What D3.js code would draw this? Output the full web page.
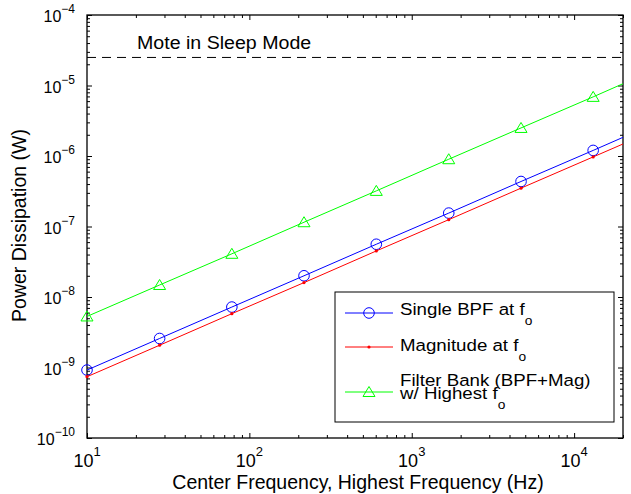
<!DOCTYPE html>
<html>
<head>
<meta charset="utf-8">
<script src="https://cdn.jsdelivr.net/npm/d3@7"></script>
<style>
  body { margin: 0; background: #fff; }
  svg { font-family: "Liberation Sans", Arial, Helvetica, sans-serif; }
</style>
</head>
<body>
<div id="chart-area"></div>
<script>
// frequencies (Hz); last one is where the lines leave the plot (no marker)
var freqs = [10, 28, 78, 217, 605, 1690, 4710, 13100, 20000];
var bpfPower = [9.2e-10, 2.58e-9, 7.2e-9, 2.0e-8, 5.6e-8, 1.55e-7, 4.35e-7, 1.2e-6, 1.84e-6];
var magPower = [7.4e-10, 2.07e-9, 5.8e-9, 1.6e-8, 4.5e-8, 1.25e-7, 3.5e-7, 9.7e-7, 1.48e-6];
var bankPower = [5.3e-9, 1.48e-8, 4.1e-8, 1.15e-7, 3.2e-7, 9.0e-7, 2.5e-6, 6.9e-6, 1.06e-5];
var sleepPower = 2.5e-5;

var xTickExps = [1, 2, 3, 4];
var yTickExps = [-10, -9, -8, -7, -6, -5, -4];
var legendLabels = [["Single BPF at f"], ["Magnitude at f"], ["Filter Bank (BPF+Mag)", "w/ Highest f"]];

var margin = {top: 15, right: 8, bottom: 56, left: 87};
var width = 631 - margin.left - margin.right;
var height = 494 - margin.top - margin.bottom;

var svg = d3.select("#chart-area").append("svg")
    .attr("width", 631)
    .attr("height", 494);

var g = svg.append("g")
    .attr("transform", "translate(" + margin.left + ", " + margin.top + ")");

var x = d3.scaleLog()
    .domain([10, 20000])
    .range([0, width]);

var y = d3.scaleLog()
    .domain([1e-10, 1e-4])
    .range([height, 0]);

function isDecade(v) {
    var l = Math.log10(v);
    return Math.abs(l - Math.round(l)) < 1e-9;
}

var xMinor = x.ticks().filter((d) => { return !isDecade(d); });
var xMajor = xTickExps.map((e) => { return Math.pow(10, e); });
var yMinor = y.ticks().filter((d) => { return !isDecade(d); });
var yMajor = yTickExps.map((e) => { return Math.pow(10, e); });

var axes = [
    [() => d3.axisBottom(x), xMinor, xMajor, "translate(0," + height + ")"],
    [() => d3.axisTop(x), xMinor, xMajor, "translate(0,0)"],
    [() => d3.axisLeft(y), yMinor, yMajor, "translate(0,0)"],
    [() => d3.axisRight(y), yMinor, yMajor, "translate(" + width + ",0)"]
];

axes.forEach((a) => {
    [[a[1], -3], [a[2], -5]].forEach((t) => {
        var ga = g.append("g")
            .attr("transform", a[3])
            .call(a[0]().tickValues(t[0]).tickSize(t[1]).tickFormat(""));
        ga.select(".domain").remove();
        ga.selectAll(".tick line").attr("stroke", "#000").attr("stroke-width", 1);
    });
});

// box
g.append("rect")
    .attr("x", 0).attr("y", 0)
    .attr("width", width).attr("height", height)
    .attr("fill", "none")
    .attr("stroke", "#000")
    .attr("stroke-width", 1.3);

// tick labels
var xLab = g.selectAll(".xlab").data(xTickExps).enter()
    .append("text")
    .attr("class", "xlab")
    .attr("x", (d) => { return x(Math.pow(10, d)); })
    .attr("y", height + 29)
    .attr("text-anchor", "middle")
    .attr("font-size", "18px");
xLab.append("tspan").text("10");
xLab.append("tspan").attr("dy", -11).attr("font-size", "13px").text((d) => { return String(d); });

var yLab = g.selectAll(".ylab").data(yTickExps).enter()
    .append("text")
    .attr("class", "ylab")
    .attr("x", -12)
    .attr("y", (d) => { return y(Math.pow(10, d)) + 7; })
    .attr("text-anchor", "end")
    .attr("font-size", "16px");
yLab.append("tspan").text("10");
yLab.append("tspan").attr("dy", -9).attr("font-size", "12px").text((d) => { return "\u2212" + Math.abs(d); });

// axis titles
g.append("text")
    .attr("x", width / 2 + 3)
    .attr("y", height + 51)
    .attr("font-size", "19.5px")
    .attr("text-anchor", "middle")
    .text("Center Frequency, Highest Frequency (Hz)");

g.append("text")
    .attr("transform", "rotate(-90)")
    .attr("x", -(height / 2) + 1)
    .attr("y", -61)
    .attr("font-size", "19.5px")
    .attr("text-anchor", "middle")
    .text("Power Dissipation (W)");

// sleep mode reference
g.append("line")
    .attr("x1", 0).attr("x2", width)
    .attr("y1", y(sleepPower)).attr("y2", y(sleepPower))
    .attr("stroke", "#000")
    .attr("stroke-width", 1)
    .attr("stroke-dasharray", "9,6");

g.append("text")
    .attr("transform", "translate(50," + (y(sleepPower) - 8) + ") scale(1.12,1)")
    .attr("font-size", "17.5px")
    .text("Mote in Sleep Mode");

// series
var series = [
    {vals: bpfPower, color: "#0000ff", marker: "circle"},
    {vals: magPower, color: "#ff0000", marker: "dot"},
    {vals: bankPower, color: "#00ff00", marker: "tri"}
];

var line = d3.line()
    .x((d) => { return x(d[0]); })
    .y((d) => { return y(d[1]); });

var triPath = "M0,-5.5L6,4.5L-6,4.5Z";

function drawMarker(sel, s) {
    if (s.marker == "circle") {
        sel.append("circle").attr("r", 5.3)
            .attr("fill", "none").attr("stroke", s.color).attr("stroke-width", 1);
    } else if (s.marker == "dot") {
        sel.append("circle").attr("r", 1.6).attr("fill", s.color);
    } else {
        sel.append("path").attr("d", triPath)
            .attr("fill", "none").attr("stroke", s.color).attr("stroke-width", 1);
    }
}

svg.append("clipPath").attr("id", "plotclip")
    .append("rect").attr("width", width).attr("height", height);

series.forEach((s) => {
    var pts = freqs.map((f, i) => { return [f, s.vals[i]]; });
    g.append("path")
        .datum(pts)
        .attr("d", line)
        .attr("fill", "none")
        .attr("stroke", s.color)
        .attr("stroke-width", 1)
        .attr("clip-path", "url(#plotclip)");
    g.selectAll(null)
        .data(pts.slice(0, pts.length - 1))
        .enter()
        .append("g")
        .attr("transform", (d) => { return "translate(" + x(d[0]) + "," + y(d[1]) + ")"; })
        .each(function() { drawMarker(d3.select(this), s); });
});

// legend
var legend = g.append("g").attr("transform", "translate(248, 277)");
legend.append("rect")
    .attr("width", 279).attr("height", 130)
    .attr("fill", "#fff")
    .attr("stroke", "#000")
    .attr("stroke-width", 1);

var rowLineY = [21, 55, 100];
var rowTextY = [[23], [58.5], [93.5], [107]];
rowTextY = [[23], [58.5], [93.5, 107]];

series.forEach((s, i) => {
    legend.append("line")
        .attr("x1", 10).attr("x2", 58)
        .attr("y1", rowLineY[i]).attr("y2", rowLineY[i])
        .attr("stroke", s.color).attr("stroke-width", 1);
    var m = legend.append("g").attr("transform", "translate(34," + rowLineY[i] + ")");
    drawMarker(m, s);
    legendLabels[i].forEach((t, j) => {
        var txt = legend.append("text")
            .attr("transform", "translate(65," + rowTextY[i][j] + ") scale(1.1,1)")
            .attr("font-size", "17px");
        txt.append("tspan").text(t);
        if (j == legendLabels[i].length - 1) {
            txt.append("tspan").attr("dy", 10).attr("font-size", "12.5px").text("o");
        }
    });
});
</script>
</body>
</html>
